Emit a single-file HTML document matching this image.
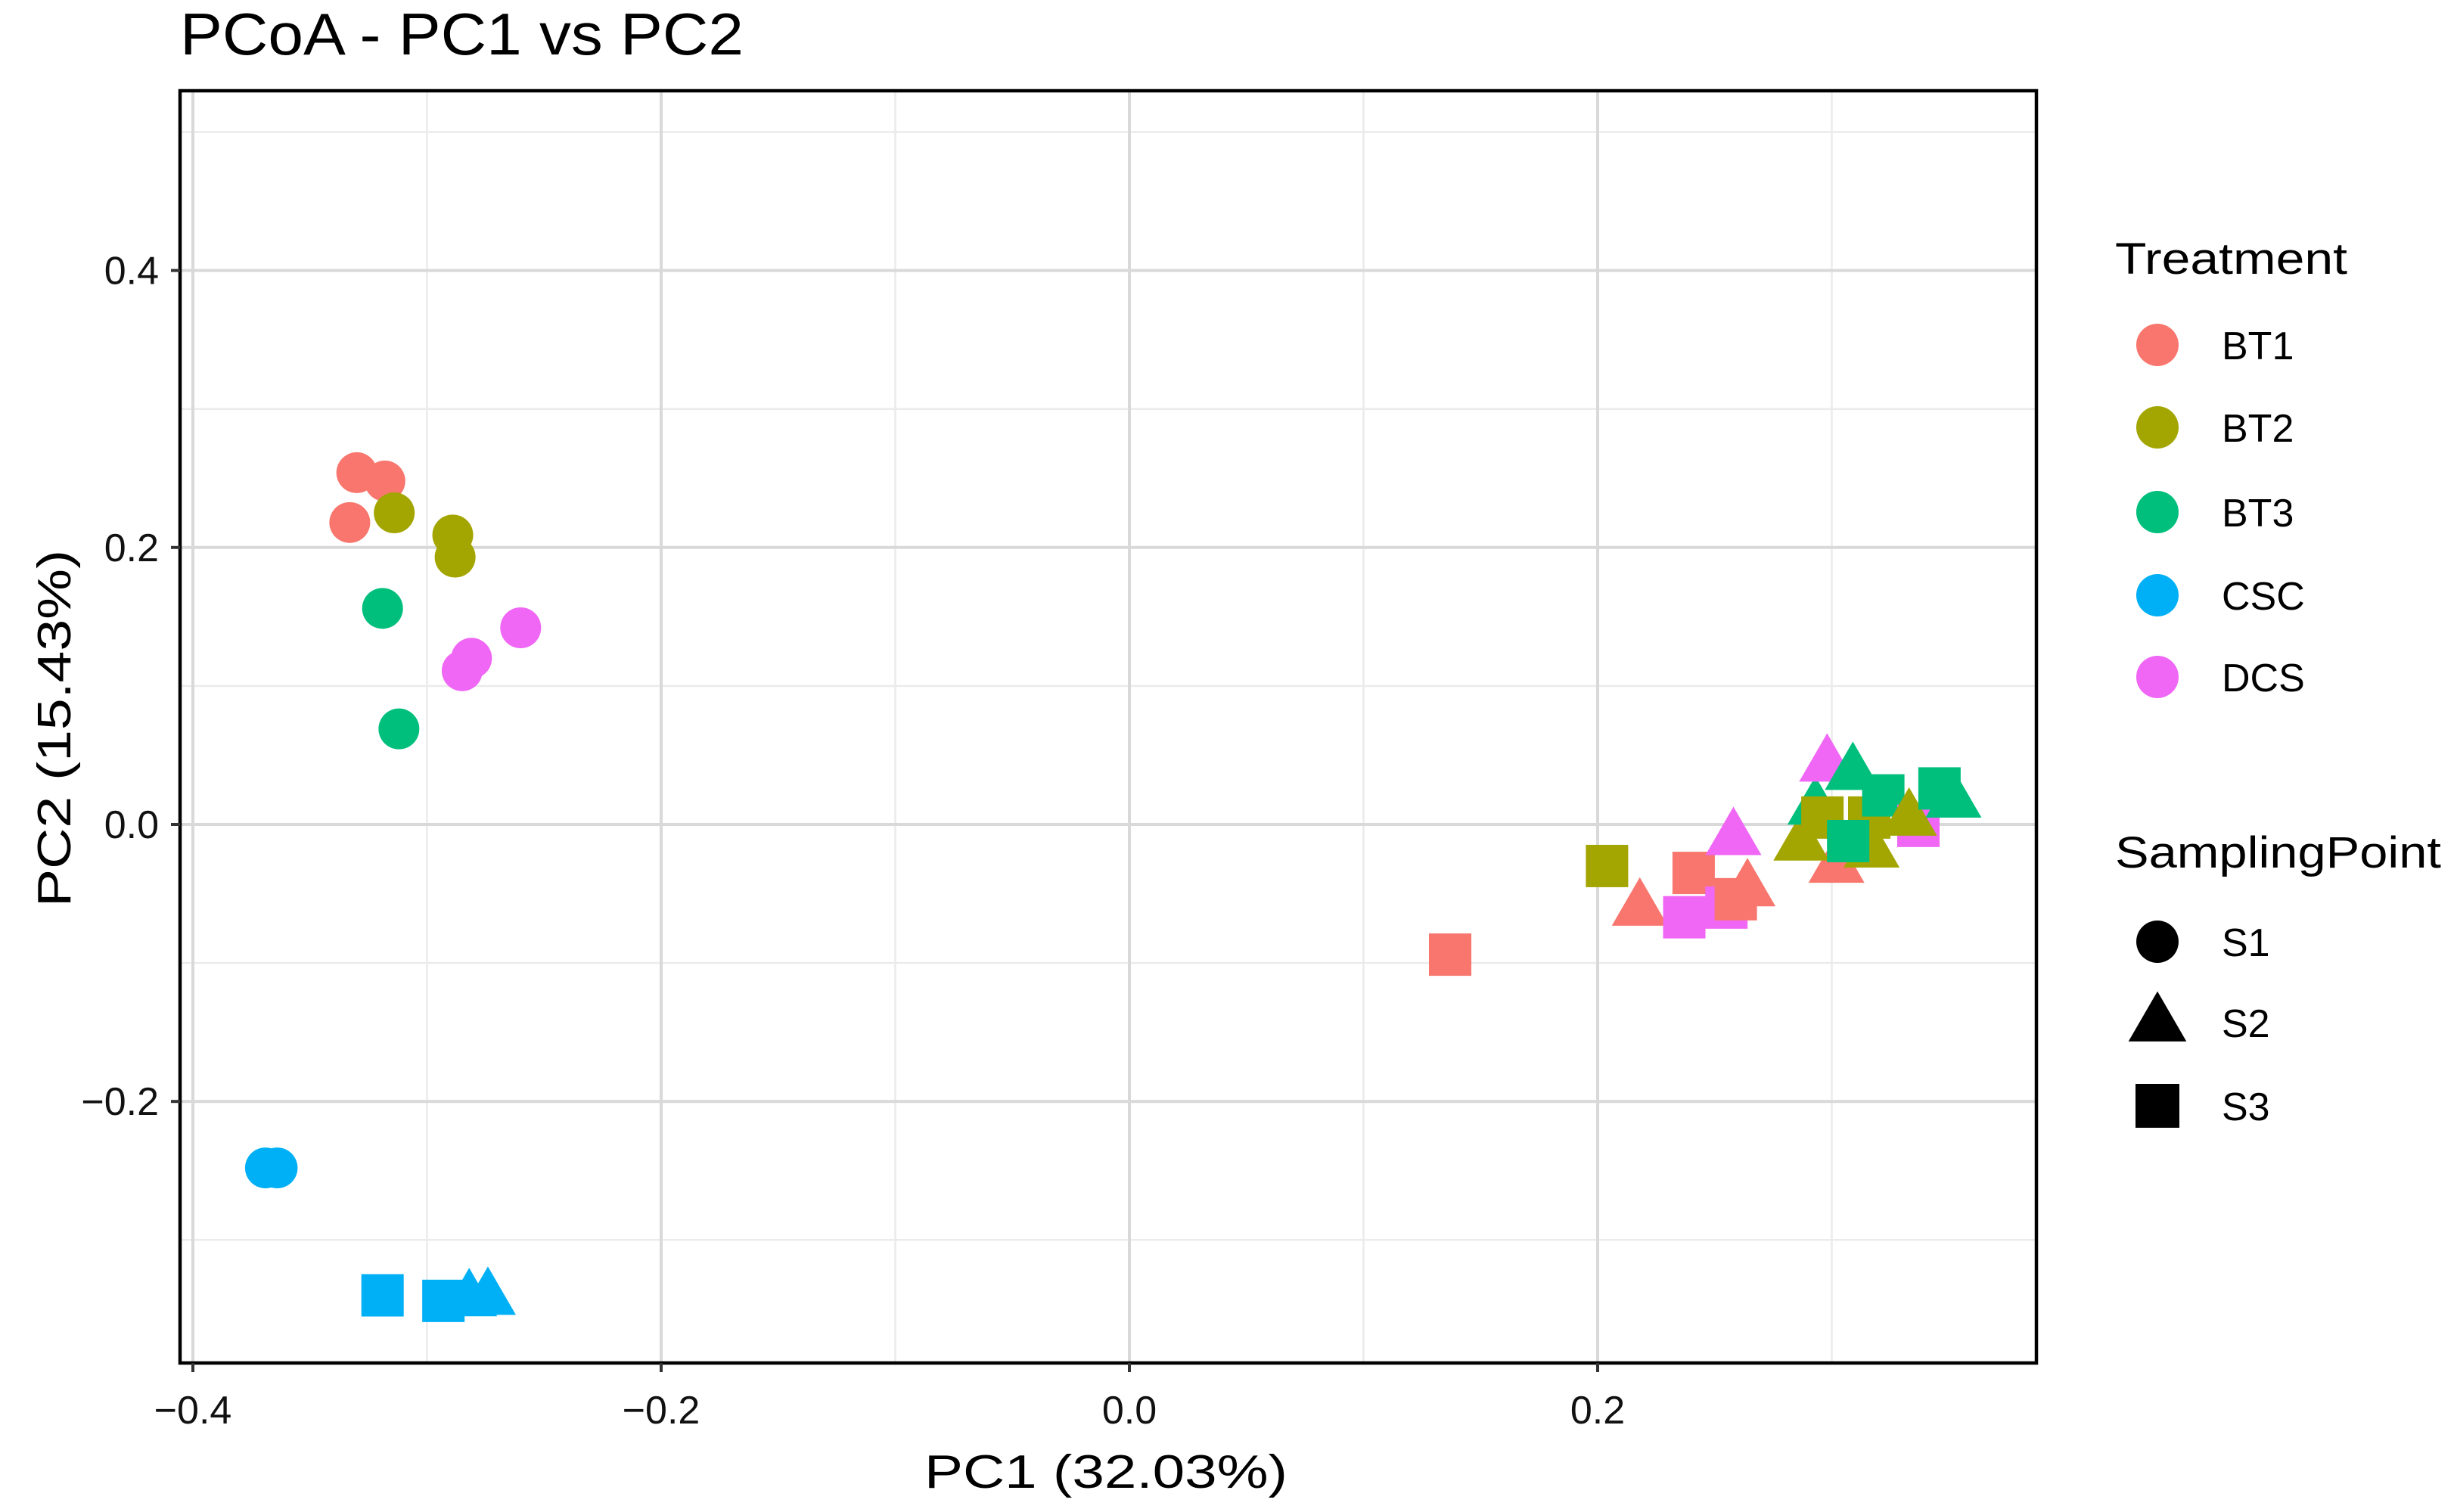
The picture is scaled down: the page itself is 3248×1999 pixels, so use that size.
<!DOCTYPE html>
<html><head><meta charset="utf-8"><style>
html,body{margin:0;padding:0;background:#fff;}
svg{display:block;font-family:"Liberation Sans",Arial,sans-serif;}
</style></head><body>
<svg id="chart" width="3248" height="1999" viewBox="0 0 3248 1999" xmlns="http://www.w3.org/2000/svg">
<text x="238" y="72" font-size="78" textLength="745" lengthAdjust="spacingAndGlyphs" fill="#000">PCoA - PC1 vs PC2</text>
<g id="grid"></g>
<g id="points"></g>
<rect x="238" y="120" width="2454" height="1682" fill="none" stroke="#000" stroke-width="4.5"/>
<g id="axes"></g>
<text x="1462" y="1967" font-size="62" text-anchor="middle" textLength="480" lengthAdjust="spacingAndGlyphs">PC1 (32.03%)</text>
<text transform="translate(93,963) rotate(-90)" font-size="62" text-anchor="middle" textLength="472" lengthAdjust="spacingAndGlyphs">PC2 (15.43%)</text>
<g id="legend"></g>
</svg>
<script>
const treatments = ["BT1","BT2","BT3","CSC","DCS"];
const colors = ["#F8766D","#A3A500","#00BF7D","#00B0F6","#F066F5"];
const samplingPoints = ["S1","S2","S3"];
const xTicks = [-0.4,-0.2,0.0,0.2];
const xTickLabels = ["\u22120.4","\u22120.2","0.0","0.2"];
const yTicks = [0.4,0.2,0.0,-0.2];
const yTickLabels = ["0.4","0.2","0.0","\u22120.2"];
const xMinor = [-0.3,-0.1,0.1,0.3];
const yMinor = [0.5,0.3,0.1,-0.1,-0.3];
const ptTreat = [0,0,0, 1,1,1, 2,2, 4,4,4, 3,3, 3,3,3,3,
  0,1,0,0,4,4,0,0,4, 0,1,2,4,2,1,1,1,2,2,4,1,2,2];
const ptShape = [0,0,0, 0,0,0, 0,0, 0,0,0, 0,0, 2,2,1,1,
  2,2,1,2,2,2,2,1,1, 1,1,1,1,1,2,2,1,2,2,2,1,2,1];
const pc1 = [-0.330,-0.318,-0.333, -0.314,-0.289,-0.288, -0.319,-0.312, -0.260,-0.281,-0.285, -0.369,-0.364, -0.319,-0.293,-0.282,-0.274,
  0.137,0.204,0.218,0.241,0.237,0.255,0.259,0.264,0.258, 0.302,0.287,0.293,0.298,0.309,0.296,0.316,0.317,0.307,0.322,0.337,0.333,0.346,0.352];
const pc2 = [0.254,0.248,0.218, 0.225,0.209,0.193, 0.156,0.069, 0.142,0.120,0.111, -0.248,-0.248, -0.340,-0.344,-0.342,-0.341,
  -0.094,-0.030,-0.060,-0.035,-0.067,-0.060,-0.054,-0.046,-0.009, -0.029,-0.013,0.013,0.044,0.038,0.005,0.005,-0.018,-0.012,0.021,-0.001,0.005,0.026,0.018];

const NS="http://www.w3.org/2000/svg";
const X0=1493, XS=3095, Y0=1090, YS=1831;
const L=238,R=2692,T=120,B=1802;
function sx(v){return X0+v*XS;}
function sy(v){return Y0-v*YS;}
function mk(tag,attrs,parent){const e=document.createElementNS(NS,tag);for(const k in attrs)e.setAttribute(k,attrs[k]);parent.appendChild(e);return e;}
const grid=document.getElementById('grid'), pts=document.getElementById('points'), axes=document.getElementById('axes'), leg=document.getElementById('legend');

xMinor.forEach(v=>{const e=mk('line',{x1:sx(v),x2:sx(v),y1:T,y2:B,stroke:'#ebebeb','stroke-width':2.5},grid);

});
yMinor.forEach(v=>{const e=mk('line',{x1:L,x2:R,y1:sy(v),y2:sy(v),stroke:'#ebebeb','stroke-width':2.5},grid);

});
xTicks.forEach((v,i)=>{const e=mk('line',{x1:sx(v),x2:sx(v),y1:T,y2:B,stroke:'#d9d9d9','stroke-width':4},grid);


const t=mk('line',{x1:sx(v),x2:sx(v),y1:B,y2:B+12,stroke:'#333','stroke-width':4},axes);


const l=mk('text',{x:sx(v),y:1882,'font-size':52,'text-anchor':'middle',fill:'#111'},axes);l.textContent=xTickLabels[i];

});
yTicks.forEach((v,i)=>{const e=mk('line',{x1:L,x2:R,y1:sy(v),y2:sy(v),stroke:'#d9d9d9','stroke-width':4},grid);


const t=mk('line',{x1:L-12,x2:L,y1:sy(v),y2:sy(v),stroke:'#333','stroke-width':4},axes);


const l=mk('text',{x:210,y:sy(v)+18,'font-size':52,'text-anchor':'end',fill:'#111'},axes);l.textContent=yTickLabels[i];

});

function shape(s,cx,cy,fill,parent,size){
  const k=size/56;
  if(s===0) return mk('circle',{cx:cx,cy:cy,r:27*k,fill:fill},parent);
  if(s===1) return mk('polygon',{points:`${cx},${cy-40*k} ${cx-37*k},${cy+24*k} ${cx+37*k},${cy+24*k}`,fill:fill},parent);
  return mk('rect',{x:cx-28*k,y:cy-28*k,width:56*k,height:56*k,fill:fill},parent);
}
pc1.forEach((v,i)=>{const e=shape(ptShape[i],sx(v),sy(pc2[i]),colors[ptTreat[i]],pts,56);

});

const lt=mk('text',{x:2796,y:362,'font-size':58,textLength:307,lengthAdjust:'spacingAndGlyphs'},leg);lt.textContent='Treatment';


const ty=[456,565,677,787,895];
treatments.forEach((t,i)=>{const c=mk('circle',{cx:2852,cy:ty[i],r:28,fill:colors[i]},leg);


const l=mk('text',{x:2937,y:ty[i]+19,'font-size':52},leg);l.textContent=t;

});
const st=mk('text',{x:2796,y:1147,'font-size':58,textLength:431,lengthAdjust:'spacingAndGlyphs'},leg);st.textContent='SamplingPoint';


const sy2=[1245,1352,1462];
samplingPoints.forEach((s,i)=>{const c=shape(i,2852,sy2[i],'#000',leg,58);


const l=mk('text',{x:2937,y:sy2[i]+19,'font-size':52},leg);l.textContent=s;

});
</script>
</body></html>
